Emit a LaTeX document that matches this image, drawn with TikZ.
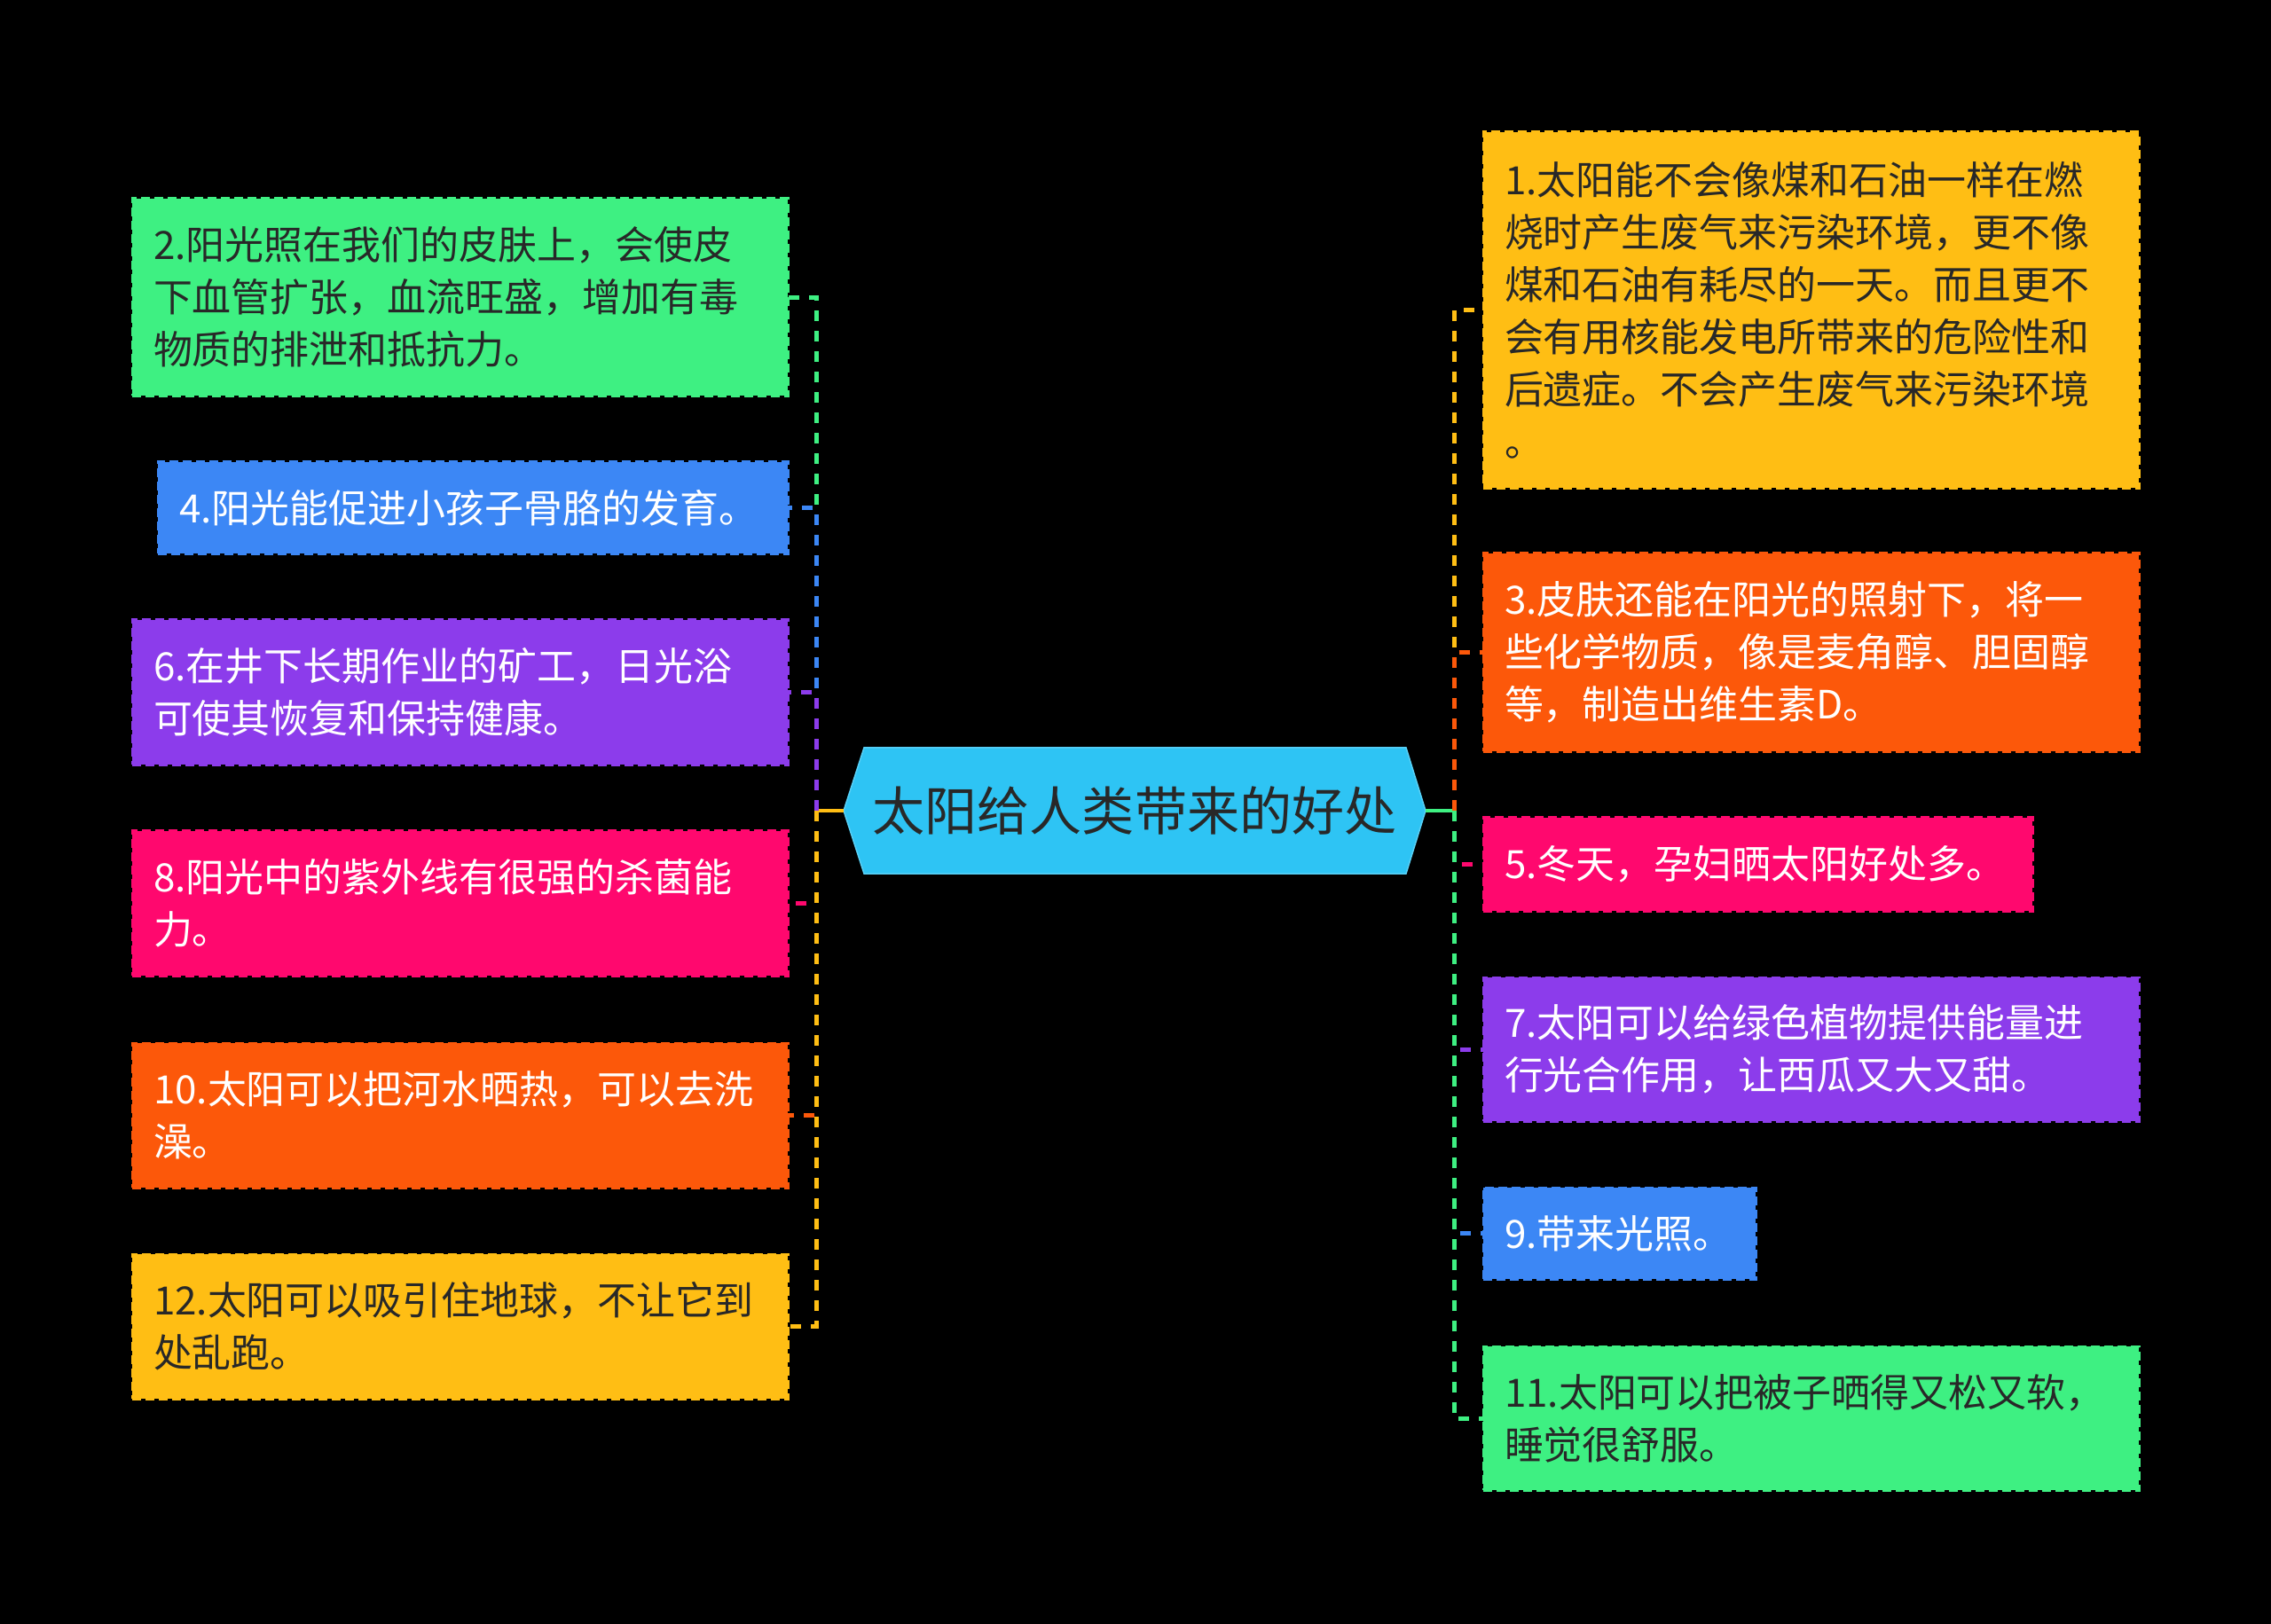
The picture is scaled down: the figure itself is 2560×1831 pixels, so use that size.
\documentclass[tikz,border=0pt]{standalone}
\usepackage{fontspec}
\setmainfont{Noto Sans CJK SC}
\definecolor{cgreen}{RGB}{62,240,130}
\definecolor{cblue}{RGB}{60,135,245}
\definecolor{cpurple}{RGB}{140,60,235}
\definecolor{cpink}{RGB}{255,8,110}
\definecolor{corange}{RGB}{252,88,10}
\definecolor{cyellow}{RGB}{255,190,20}
\definecolor{ccyan}{RGB}{46,196,244}
\definecolor{cdark}{RGB}{40,40,40}
\begin{document}
\begin{tikzpicture}[x=0.01cm,y=-0.01cm,
  leaf/.style={rectangle, anchor=north west, inner xsep=0.24cm, inner ysep=0pt, outer sep=0pt,
    align=left, font=\fontsize{12.5pt}{16.8pt}\selectfont, line width=0.03cm,
    dash pattern=on 0.1cm off 0.05cm},
  leafgreen/.style={leaf, fill=cgreen, draw=cgreen, text=cdark},
  leafblue/.style={leaf, fill=cblue, draw=cblue, text=white},
  leafpurple/.style={leaf, fill=cpurple, draw=cpurple, text=white},
  leafpink/.style={leaf, fill=cpink, draw=cpink, text=white},
  leaforange/.style={leaf, fill=corange, draw=corange, text=white},
  leafyellow/.style={leaf, fill=cyellow, draw=cyellow, text=cdark},
  conn/.style={line width=0.05cm, dash pattern=on 0.12cm off 0.11cm},
  trunk/.style={line width=0.045cm},
]
\fill[black] (0,0) rectangle (2560,1831);
\useasboundingbox (0,0) rectangle (2560,1831);

% central hexagon
\filldraw[fill=ccyan, draw=ccyan!80!white, line width=0.015cm]
  (951,914) -- (974,843) -- (1585,843) -- (1607,914) -- (1585,985) -- (974,985) -- cycle;
\node[minimum width=6.56cm, minimum height=1.42cm, inner sep=0pt, outer sep=0pt,
  font=\fontsize{16.8pt}{20pt}\selectfont, text=cdark] (root) at (1279,914) {太阳给人类带来的好处};

% left leaves
\node[leafgreen, text width=6.91cm, minimum height=2.22cm] (L2) at (149,224)
  {2.阳光照在我们的皮肤上，会使皮\\下血管扩张，血流旺盛，增加有毒\\物质的排泄和抵抗力。};
\node[leafblue, text width=6.62cm, minimum height=1.03cm] (L4) at (178,521)
  {4.阳光能促进小孩子骨胳的发育。};
\node[leafpurple, text width=6.91cm, minimum height=1.63cm] (L6) at (149,699)
  {6.在井下长期作业的矿工，日光浴\\可使其恢复和保持健康。};
\node[leafpink, text width=6.91cm, minimum height=1.63cm] (L8) at (149,937)
  {8.阳光中的紫外线有很强的杀菌能\\力。};
\node[leaforange, text width=6.91cm, minimum height=1.63cm] (L10) at (149,1176)
  {10.太阳可以把河水晒热，可以去洗\\澡。};
\node[leafyellow, text width=6.91cm, minimum height=1.63cm] (L12) at (149,1414)
  {12.太阳可以吸引住地球，不让它到\\处乱跑。};

% right leaves
\node[leafyellow, text width=6.91cm, minimum height=4.01cm] (R1) at (1672,149)
  {1.太阳能不会像煤和石油一样在燃\\烧时产生废气来污染环境，更不像\\煤和石油有耗尽的一天。而且更不\\会有用核能发电所带来的危险性和\\后遗症。不会产生废气来污染环境\\。};
\node[leaforange, text width=6.91cm, minimum height=2.23cm] (R3) at (1672,624)
  {3.皮肤还能在阳光的照射下，将一\\些化学物质，像是麦角醇、胆固醇\\等，制造出维生素D。};
\node[leafpink, text width=5.71cm, minimum height=1.05cm] (R5) at (1672,922)
  {5.冬天，孕妇晒太阳好处多。};
\node[leafpurple, text width=6.91cm, minimum height=1.62cm] (R7) at (1672,1102)
  {7.太阳可以给绿色植物提供能量进\\行光合作用，让西瓜又大又甜。};
\node[leafblue, text width=2.59cm, minimum height=1.03cm] (R9) at (1672,1339)
  {9.带来光照。};
\node[leafgreen, text width=6.91cm, minimum height=1.62cm] (R11) at (1672,1518)
  {11.太阳可以把被子晒得又松又软，\\睡觉很舒服。};

% junctions
\coordinate (lj) at (920,914);
\coordinate (rj) at (1639,914);
\draw[trunk, cyellow] (root.west) -- (lj);
\draw[trunk, cgreen] (root.east) -- (rj);

% left connectors
\draw[conn, cgreen] (lj) |- (L2.east);
\draw[conn, cblue] (lj) |- (L4.east);
\draw[conn, cpurple] (lj) |- (L6.east);
\draw[conn, cpink] (lj) |- (L8.east);
\draw[conn, corange] (lj) |- (L10.east);
\draw[conn, cyellow] (lj) |- (L12.east);

% right connectors
\draw[conn, cyellow] (rj) |- (R1.west);
\draw[conn, corange] (rj) |- (R3.west);
\draw[conn, cpink] (rj) |- (R5.west);
\draw[conn, cpurple] (rj) |- (R7.west);
\draw[conn, cblue] (rj) |- (R9.west);
\draw[conn, cgreen] (rj) |- (R11.west);
\end{tikzpicture}
\end{document}
